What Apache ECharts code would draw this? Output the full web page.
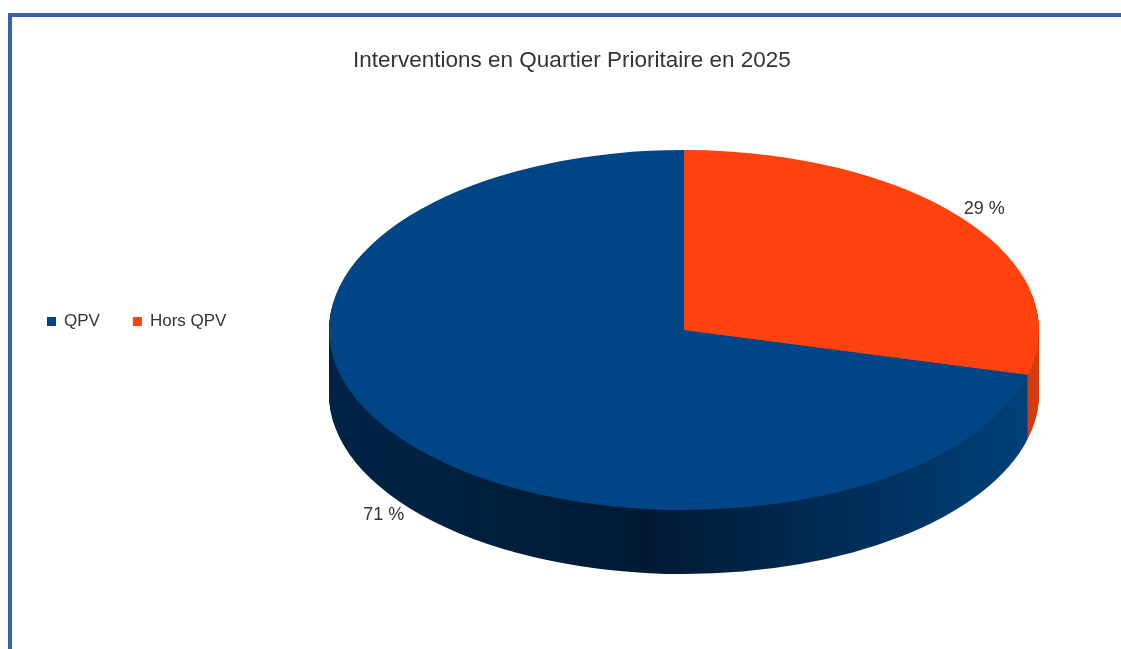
<!DOCTYPE html>
<html>
<head>
<meta charset="utf-8">
<script src="https://cdn.jsdelivr.net/npm/echarts@6/dist/echarts.min.js"></script>
<style>
  html, body { margin: 0; padding: 0; background: #fff; }
  #chart { width: 1121px; height: 649px; }
</style>
</head>
<body>
<div id="chart"></div>
<script>
const categories = ["QPV", "Hors QPV"];
const values = [71, 29];
const labels = ["71 %", "29 %"];
const topColors = ["#004586", "#ff420e"];

const FONT = "Liberation Sans, Arial, sans-serif";
const total = values.reduce((a, b) => a + b, 0);

// fake 3D pie: ellipse + extruded side
const cx = 684, cy = 330, rx = 355, ry = 180, depth = 64;
const sy = ry / rx;

const sideFill = [
  {
    type: "linear", global: true, x: cx - rx, y: 0, x2: cx + rx, y2: 0,
    colorStops: [
      { offset: 0, color: "#002447" },
      { offset: 0.45, color: "#001a33" },
      { offset: 1, color: "#00417c" },
    ],
  },
  {
    type: "linear", global: true, x: cx - rx, y: 0, x2: cx + rx, y2: 0,
    colorStops: [
      { offset: 0, color: "#a02a06" },
      { offset: 1, color: "#d63c0c" },
    ],
  },
];

function sliceAngles(k) {
  let before = 0;
  for (let i = 0; i < k; i++) before += values[i];
  const start = -Math.PI / 2 - (before / total) * Math.PI * 2;
  const end = start - (values[k] / total) * Math.PI * 2;
  return [start, end];
}

function renderSlice(k) {
  return function (params, api) {
    const [start, end] = sliceAngles(k);
    const children = [];

    // deeper copies first, shallower ones on top -> outer wall shows
    for (let i = depth; i >= 1; i--) {
      children.push({
        type: "sector",
        z2: depth - i,
        silent: true,
        shape: { cx: cx, cy: i / sy, r: rx, r0: 0, startAngle: start, endAngle: end, clockwise: false },
        style: { fill: sideFill[k] },
      });
    }
    children.push({
      type: "sector",
      z2: depth + 10,
      shape: { cx: cx, cy: 0, r: rx, r0: 0, startAngle: start, endAngle: end, clockwise: false },
      style: { fill: topColors[k] },
    });

    const mid = (start + end) / 2;
    const lx = cx + rx * 1.07 * Math.cos(mid);
    const ly = cy + ry * 1.1 * Math.sin(mid) + (Math.sin(mid) > 0 ? depth : 0);

    return {
      type: "group",
      children: [
        { type: "group", x: 0, y: cy, scaleY: sy, children: children },
        {
          type: "text",
          z2: depth + 20,
          style: {
            text: labels[k], x: lx, y: ly, align: "center", verticalAlign: "middle",
            fill: "#333", font: "18px " + FONT,
          },
        },
      ],
    };
  };
}

const chart = echarts.init(document.getElementById("chart"));

chart.setOption({
  animation: false,
  title: {
    text: "Interventions en Quartier Prioritaire en 2025",
    left: 348,
    top: 44,
    textStyle: { fontFamily: FONT, fontSize: 22.5, fontWeight: "normal", color: "#333" },
  },
  legend: {
    orient: "horizontal",
    left: 42,
    top: 308,
    icon: "rect",
    itemWidth: 9,
    itemHeight: 9,
    itemGap: 33,
    data: categories,
    textStyle: { fontFamily: FONT, fontSize: 17, color: "#333", padding: [0, 0, 0, 3] },
  },
  graphic: [
    { type: "line", shape: { x1: 8, y1: 15, x2: 1121, y2: 15 }, style: { stroke: "#3a62a8", lineWidth: 4 } },
    { type: "line", shape: { x1: 10, y1: 13, x2: 10, y2: 649 }, style: { stroke: "#3a62a8", lineWidth: 4 } },
  ],
  series: categories.map((name, k) => ({
    type: "custom",
    name: name,
    coordinateSystem: "none",
    itemStyle: { color: topColors[k] },
    data: [values[k]],
    renderItem: renderSlice(k),
  })),
});
</script>
</body>
</html>
